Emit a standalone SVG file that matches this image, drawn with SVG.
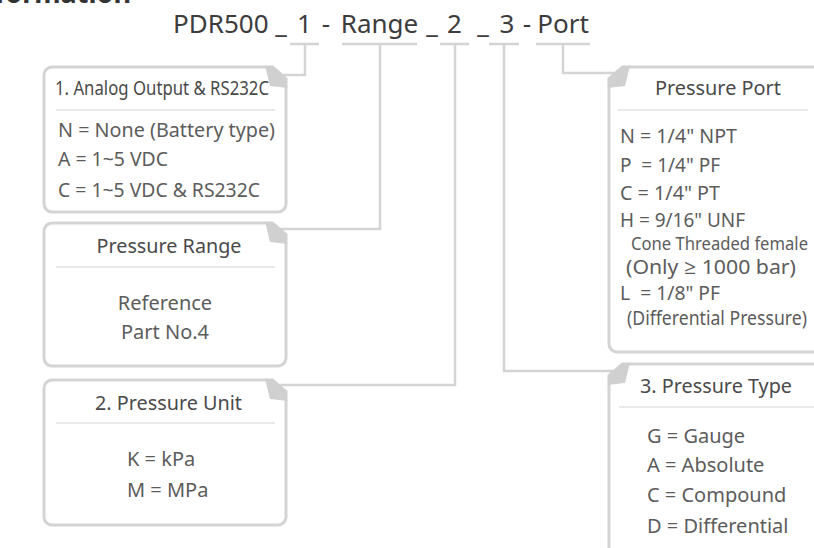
<svg xmlns="http://www.w3.org/2000/svg" width="814" height="548" viewBox="0 0 814 548">
<style>
text{font-family:"Noto Sans","Open Sans",sans-serif;}
.t{font-size:26px;fill:#3c3c3c;}
.h{font-size:20px;fill:#4a4a4a;}
.hs{font-size:20px;fill:#4a4a4a;}
.b{font-size:20px;fill:#5c5c5c;}
.bs{font-size:18px;fill:#5c5c5c;}
.box{fill:#fff;stroke:#d4d4d4;stroke-width:3;}
.tab{fill:#d0d0d0;}
.sep{stroke:#d4d4d4;stroke-width:1.2;}
.con{fill:none;stroke:#d4d4d4;stroke-width:2.5;}
</style>
<rect width="814" height="548" fill="#fff"/>
<text x="131" y="3" text-anchor="end" style="font-size:27px;fill:#333;font-weight:bold">Ordering Information</text>
<g id="title" class="t">
<text x="173" y="33">PDR500</text>
<text x="281" y="33" text-anchor="middle">_</text>
<text x="304.5" y="33" text-anchor="middle">1</text>
<text x="326" y="33" text-anchor="middle">-</text>
<text x="379.5" y="33" text-anchor="middle">Range</text>
<text x="432" y="33" text-anchor="middle">_</text>
<text x="454.5" y="33" text-anchor="middle">2</text>
<text x="483" y="33" text-anchor="middle">_</text>
<text x="507" y="33" text-anchor="middle">3</text>
<text x="527" y="33" text-anchor="middle">-</text>
<text x="563" y="33" text-anchor="middle">Port</text>
</g>
<g id="connectors" class="con">
<path d="M290,44H319M342,44H417M440,44H469M489,44H519M536,44H590"/>
<path d="M305,44V75H280"/>
<path d="M380,44V229H280"/>
<path d="M455,44V385H280"/>
<path d="M504,44V371H615"/>
<path d="M563,44V73H615"/>
</g>
<g id="analog">
<path class="box" d="M266,67H52A8,8 0 0 0 44,75V204A8,8 0 0 0 52,212H278A8,8 0 0 0 286,204V87"/>
<polygon class="tab" points="265,65.5 273,65.5 287.5,78 287.5,88 270,86"/>
<text class="hs" x="55" y="95" textLength="214" lengthAdjust="spacingAndGlyphs">1. Analog Output &amp; RS232C</text>
<line class="sep" x1="56" y1="110" x2="275" y2="110"/>
<text class="b" x="58" y="137" textLength="217" lengthAdjust="spacingAndGlyphs">N = None (Battery type)</text>
<text class="b" x="58" y="166" textLength="110" lengthAdjust="spacingAndGlyphs">A = 1~5 VDC</text>
<text class="b" x="58" y="196.5" textLength="202" lengthAdjust="spacingAndGlyphs">C = 1~5 VDC &amp; RS232C</text>
</g>
<g id="range">
<path class="box" d="M266,223H52A8,8 0 0 0 44,231V358A8,8 0 0 0 52,366H278A8,8 0 0 0 286,358V243"/>
<polygon class="tab" points="265,221.5 273,221.5 287.5,234 287.5,244 270,242"/>
<text class="h" x="169" y="253" text-anchor="middle" textLength="145" lengthAdjust="spacingAndGlyphs">Pressure Range</text>
<line class="sep" x1="56" y1="267" x2="275" y2="267"/>
<text class="b" x="165" y="310" text-anchor="middle">Reference</text>
<text class="b" x="165" y="339" text-anchor="middle">Part No.4</text>
</g>
<g id="unit">
<path class="box" d="M266,380H52A8,8 0 0 0 44,388V517A8,8 0 0 0 52,525H278A8,8 0 0 0 286,517V400"/>
<polygon class="tab" points="265,378.5 273,378.5 287.5,391 287.5,401 270,399"/>
<text class="h" x="168.5" y="410" text-anchor="middle" textLength="147" lengthAdjust="spacingAndGlyphs">2. Pressure Unit</text>
<line class="sep" x1="56" y1="423" x2="275" y2="423"/>
<text class="b" x="127" y="466">K = kPa</text>
<text class="b" x="127" y="497">M = MPa</text>
</g>
<g id="port">
<path class="box" d="M629,67H830V352H617A8,8 0 0 1 609,344V87"/>
<polygon class="tab" points="630,65.5 622,65.5 607.5,78 607.5,88 625,86"/>
<text class="h" x="718" y="95" text-anchor="middle" textLength="126" lengthAdjust="spacingAndGlyphs">Pressure Port</text>
<line class="sep" x1="618" y1="110" x2="808" y2="110"/>
<text class="b" x="620" y="143" textLength="117" lengthAdjust="spacingAndGlyphs">N = 1/4" NPT</text>
<text class="b" x="620" y="172" textLength="100" lengthAdjust="spacingAndGlyphs" xml:space="preserve">P  = 1/4" PF</text>
<text class="b" x="620" y="200" textLength="100" lengthAdjust="spacingAndGlyphs">C = 1/4" PT</text>
<text class="b" x="620" y="227" textLength="125" lengthAdjust="spacingAndGlyphs">H = 9/16" UNF</text>
<text class="bs" x="631" y="250" textLength="177" lengthAdjust="spacingAndGlyphs">Cone Threaded female</text>
<text class="b" x="626" y="274" textLength="170" lengthAdjust="spacingAndGlyphs">(Only ≥ 1000 bar)</text>
<text class="b" x="620" y="300" textLength="100" lengthAdjust="spacingAndGlyphs" xml:space="preserve">L  = 1/8" PF</text>
<text class="b" x="627" y="325" textLength="180" lengthAdjust="spacingAndGlyphs">(Differential Pressure)</text>
</g>
<g id="type">
<path class="box" d="M629,364H830V600H609V384"/>
<polygon class="tab" points="630,362.5 622,362.5 607.5,375 607.5,385 625,383"/>
<text class="h" x="716" y="393" text-anchor="middle" textLength="152" lengthAdjust="spacingAndGlyphs">3. Pressure Type</text>
<line class="sep" x1="619" y1="407" x2="814" y2="407"/>
<text class="b" x="647" y="443">G = Gauge</text>
<text class="b" x="647" y="472">A = Absolute</text>
<text class="b" x="647" y="502">C = Compound</text>
<text class="b" x="647" y="533">D = Differential</text>
</g>
</svg>
